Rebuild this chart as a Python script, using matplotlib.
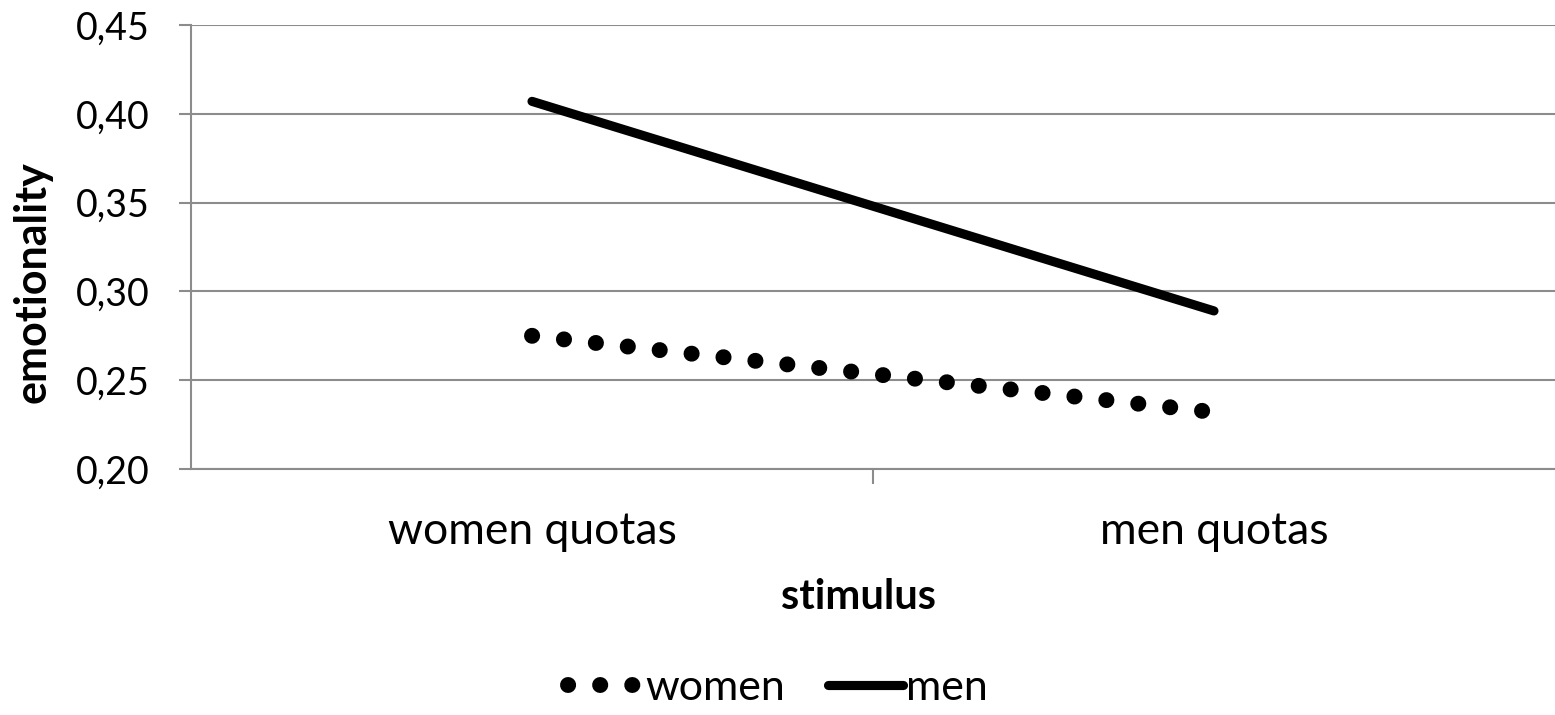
import matplotlib.pyplot as plt

plt.rcParams['font.family'] = ['Lato', 'DejaVu Sans']

categories = ['women quotas', 'men quotas']
women = [0.275, 0.232]
men = [0.407, 0.289]
yticks = [0.20, 0.25, 0.30, 0.35, 0.40, 0.45]

fig = plt.figure(figsize=(15.55, 7.15), dpi=100)
ax = fig.add_axes([191/1555, 1-469/715, 1-191/1555, (469-25)/715])

x = range(len(categories))
ax.plot(x, women, color='black', lw=11.5, linestyle=(0, (0.01, 2.0)),
        dash_capstyle='round', label='women')
ax.plot(x, men, color='black', lw=6.6, solid_capstyle='round', label='men')

ax.set_xlim(-0.5, 1.5)
ax.set_ylim(0.20, 0.45)
ax.set_yticks(yticks)
ax.set_yticklabels([f'{v:.2f}'.replace('.', ',') for v in yticks])
ax.set_xticks(list(x))
ax.set_xticklabels(categories)
ax.set_xticks([0.5], minor=True)

ax.grid(axis='y', color='#8c8c8c', lw=1.5)
ax.set_axisbelow(True)
for s in ['top', 'right']:
    ax.spines[s].set_visible(False)
for s in ['left', 'bottom']:
    ax.spines[s].set_color('#8c8c8c')
    ax.spines[s].set_linewidth(1.5)

ax.tick_params(axis='y', length=9, width=1.5, color='#8c8c8c', labelsize=27, pad=21)
ax.tick_params(axis='x', which='major', length=0, labelsize=32, pad=30)
ax.tick_params(axis='x', which='minor', length=11, width=1.5, color='#8c8c8c')

ax.set_xlabel('stimulus', fontsize=30, fontweight='bold')
ax.set_ylabel('emotionality', fontsize=31, fontweight='bold')
ax.xaxis.set_label_coords((859-191)/1364, -(597-469)/444)
ax.yaxis.set_label_coords((33-191)/1364, (469-282)/444)
ax.xaxis.label.set_va('center')
ax.yaxis.label.set_va('center')

leg = fig.legend(loc='center', bbox_to_anchor=(0.5, 1-688/715), ncol=2, frameon=False,
                 fontsize=31, handlelength=1.75, handletextpad=0.05, columnspacing=1.0)
for h in leg.get_lines():
    h.set_solid_capstyle('round')

fig.savefig('out.png', dpi=100)
